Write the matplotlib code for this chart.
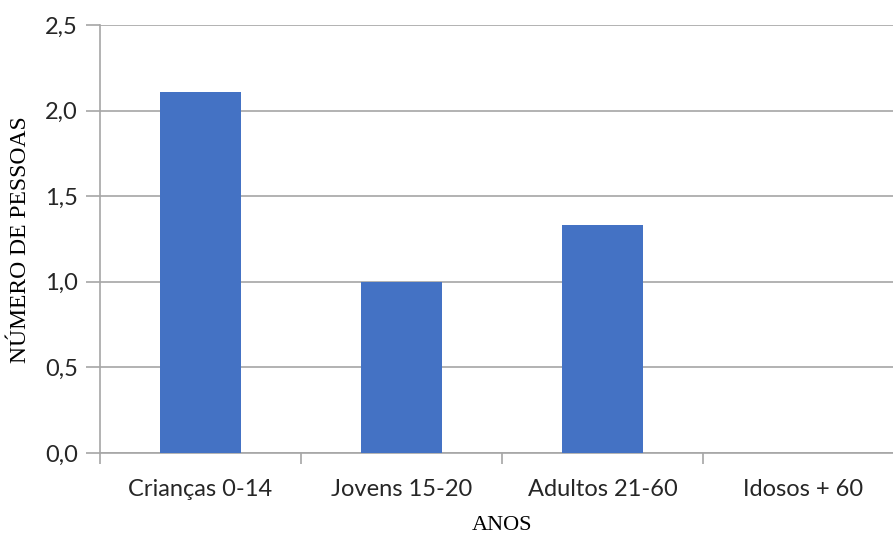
import matplotlib.pyplot as plt
from matplotlib.ticker import FuncFormatter, FixedLocator

categorias = ['Crianças 0-14', 'Jovens 15-20', 'Adultos 21-60', 'Idosos + 60']
pessoas = [2.11, 1.0, 1.33, 0.0]
yticks = [0.0, 0.5, 1.0, 1.5, 2.0, 2.5]

fig = plt.figure(figsize=(8.93, 5.35), dpi=100)
ax = fig.add_axes([100/893, 1 - 453/535, 804/893, 428/535])

x = list(range(len(categorias)))
ax.bar(x, pessoas, width=0.4, color='#4472C4', zorder=3)

ax.set_xlim(-0.5, len(categorias) - 0.5)
ax.set_ylim(0, 2.5)
ax.set_yticks(yticks)
ax.yaxis.set_major_formatter(FuncFormatter(lambda v, p: f'{v:.1f}'.replace('.', ',')))

# category labels in the middle, tick marks between categories
ax.set_xticks(x)
ax.set_xticklabels(categorias)
ax.xaxis.set_minor_locator(FixedLocator([i - 0.5 for i in range(len(categorias) + 1)]))
ax.tick_params(axis='x', which='major', length=0, pad=19)
ax.tick_params(axis='x', which='minor', length=8, color='#a6a6a6', width=1.2)
ax.tick_params(axis='y', length=10, color='#a6a6a6', width=1.2, pad=6)
for lbl in ax.get_xticklabels() + ax.get_yticklabels():
    lbl.set_fontfamily('Lato')
    lbl.set_fontsize(17)
    lbl.set_color('#262626')

ax.grid(axis='y', color='#a6a6a6', linewidth=1.2, zorder=0)
for s in ['top', 'right']:
    ax.spines[s].set_visible(False)
ax.spines['left'].set_color('#a6a6a6')
ax.spines['bottom'].set_color('#a6a6a6')
ax.spines['left'].set_linewidth(1.2)
ax.spines['bottom'].set_linewidth(1.2)

fig.text(502/893, 1 - 525/535, 'ANOS', ha='center', va='center',
         family='Liberation Serif', fontsize=16)
fig.text(21/893, 1 - 240/535, 'NÚMERO DE PESSOAS', ha='center', va='center',
         rotation=90, family='Liberation Serif', fontsize=17)

fig.savefig('out.png', dpi=100)
